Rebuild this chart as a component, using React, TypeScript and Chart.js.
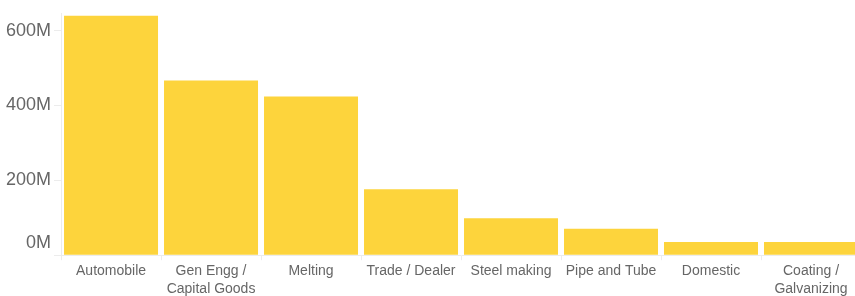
import React, { useEffect, useRef } from "react";
import { Chart, registerables } from "chart.js";

Chart.register(...registerables);

const categories: (string | string[])[] = [
  "Automobile",
  ["Gen Engg /", "Capital Goods"],
  "Melting",
  "Trade / Dealer",
  "Steel making",
  "Pipe and Tube",
  "Domestic",
  ["Coating /", "Galvanizing"],
];

// values in millions
const values = [640, 467, 424, 176, 99, 71, 35, 35];

const yTicks = [0, 200, 400, 600];
const yMax = 645;

const barColor = "#FDD43C";

export default function App() {
  const ref = useRef<HTMLCanvasElement>(null);

  useEffect(() => {
    if (!ref.current) return;
    const chart = new Chart(ref.current, {
      type: "bar",
      data: {
        labels: categories,
        datasets: [
          {
            data: values,
            backgroundColor: barColor,
            borderWidth: 0,
            barPercentage: 0.94,
            categoryPercentage: 1,
          },
        ],
      },
      options: {
        responsive: false,
        animation: false,
        devicePixelRatio: 1,
        layout: { padding: { left: 3, right: 0, top: 0, bottom: 0 } },
        plugins: {
          legend: { display: false },
          tooltip: { enabled: false },
        },
        scales: {
          x: {
            grid: {
              drawOnChartArea: false,
              tickLength: 5,
              color: "#ececec",
              offset: true,
            },
            border: { color: "#ececec" },
            ticks: {
              color: "#666",
              padding: 1,
              maxRotation: 0,
              autoSkip: false,
              font: { family: "'Liberation Sans', Arial, sans-serif", size: 14, lineHeight: 1.35 },
            },
          },
          y: {
            min: 0,
            max: yMax,
            afterBuildTicks: (scale: any) => {
              scale.ticks = yTicks.map((v) => ({ value: v }));
            },
            grid: {
              drawOnChartArea: false,
              tickLength: 7,
              color: "#ececec",
            },
            border: { color: "#ececec" },
            ticks: {
              color: "#666",
              padding: 3,
              callback: (v: any) => (Number(v) === 0 ? ["0M", ""] : `${v}M`),
              font: (ctx: any) =>
                ctx.tick && ctx.tick.value === 0
                  ? { family: "'Liberation Sans', Arial, sans-serif", size: 18, lineHeight: 1.33 }
                  : { family: "'Liberation Sans', Arial, sans-serif", size: 18, lineHeight: 1.2 },
            },
          },
        },
      },
    });
    return () => chart.destroy();
  }, []);

  return (
    <div
      style={{
        position: "fixed",
        left: 0,
        top: 0,
        width: 855,
        height: 296,
        overflow: "hidden",
        background: "#fff",
      }}
    >
      <canvas ref={ref} width={861} height={300} style={{ display: "block" }} />
    </div>
  );
}
